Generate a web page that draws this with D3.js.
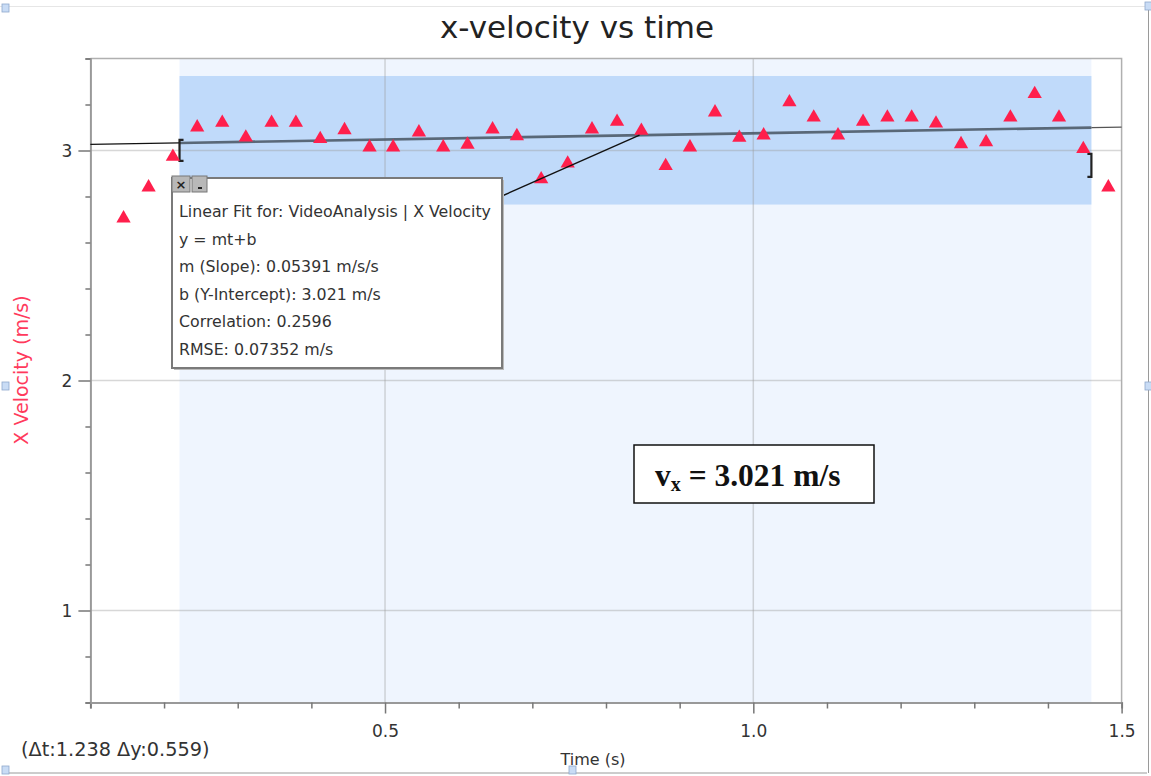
<!DOCTYPE html>
<html>
<head>
<meta charset="utf-8">
<script src="https://cdn.jsdelivr.net/npm/d3@7"></script>
<style>
  body { margin: 0; background: #fff; }
  svg { display: block; }
</style>
</head>
<body>
<div id="container"></div>
<script>
/* CONSTANTS AND GLOBALS */
const width = 1151,
  height = 776,
  margin = {top: 58.5, bottom: 73.5, left: 90.4, right: 29.4};

// data
const times = [0.145, 0.179, 0.212, 0.245, 0.279, 0.311, 0.346, 0.379, 0.412, 0.445,
  0.479, 0.511, 0.546, 0.579, 0.612, 0.646, 0.679, 0.712, 0.748, 0.781,
  0.815, 0.848, 0.881, 0.914, 0.948, 0.981, 1.014, 1.049, 1.082, 1.115,
  1.149, 1.182, 1.215, 1.248, 1.282, 1.316, 1.349, 1.382, 1.415, 1.448, 1.482];
const xVelocity = [2.705, 2.840, 2.973, 3.101, 3.121, 3.057, 3.121, 3.121, 3.050, 3.089,
  3.014, 3.014, 3.079, 3.014, 3.026, 3.092, 3.063, 2.875, 2.944, 3.092,
  3.125, 3.086, 2.933, 3.014, 3.166, 3.056, 3.066, 3.210, 3.144, 3.066,
  3.125, 3.144, 3.144, 3.118, 3.028, 3.036, 3.144, 3.246, 3.144, 3.007, 2.840];

const xTicks = [0.5, 1.0, 1.5];
const yTicks = [1, 2, 3];

// selected region and linear fit
const selT = [0.221, 1.459];
const selV = [2.765, 3.324];
const slope = 0.05391, intercept = 3.021;
const fitLines = [
  "Linear Fit for: VideoAnalysis | X Velocity",
  "y = mt+b",
  "m (Slope): 0.05391 m/s/s",
  "b (Y-Intercept): 3.021 m/s",
  "Correlation: 0.2596",
  "RMSE: 0.07352 m/s"
];
const bracketLeft = [3.046, 2.955];
const bracketRight = [2.985, 2.885];

const data = times.map((t, i) => ({t: t, v: xVelocity[i]}));

const svg = d3.select("#container")
  .append("svg")
  .attr("width", width)
  .attr("height", height);

// Scales
const xScale = d3.scaleLinear()
  .domain([0.1, 1.5])
  .range([margin.left, width - margin.right]);

const yScale = d3.scaleLinear()
  .domain([0.6, 3.4])
  .range([height - margin.bottom, margin.top]);

const x0 = margin.left, x1 = width - margin.right,
  y0 = margin.top, y1 = height - margin.bottom;

const font = "'DejaVu Sans', sans-serif";

// window frame bits
svg.append("line").attr("x1", 0).attr("x2", width - 4).attr("y1", 6.5).attr("y2", 6.5)
  .attr("stroke", "#e6e6e6");
svg.append("line").attr("x1", 4).attr("x2", width - 4).attr("y1", 773).attr("y2", 773)
  .attr("stroke", "#9a9a9a");
svg.append("line").attr("x1", 1148.5).attr("x2", 1148.5).attr("y1", 4).attr("y2", 773)
  .attr("stroke", "#9a9a9a");
[[2, 4], [2, 382], [2, 766], [569, 766], [1145, 382], [1145, 2]].forEach(p => {
  svg.append("rect").attr("x", p[0]).attr("y", p[1]).attr("width", 7).attr("height", 8)
    .attr("fill", "#c9dcf5").attr("stroke", "#8fa9cc").attr("stroke-width", 0.8);
});

// Title
svg.append("text")
  .attr("x", 577)
  .attr("y", 38)
  .attr("text-anchor", "middle")
  .style("font-family", font)
  .style("font-size", "31px")
  .style("fill", "#222")
  .text("x-velocity vs time");

// selection shading
svg.append("rect")
  .attr("x", xScale(selT[0]))
  .attr("y", y0)
  .attr("width", xScale(selT[1]) - xScale(selT[0]))
  .attr("height", y1 - y0)
  .attr("fill", "#eff5fe");

svg.append("rect")
  .attr("x", xScale(selT[0]))
  .attr("y", yScale(selV[1]))
  .attr("width", xScale(selT[1]) - xScale(selT[0]))
  .attr("height", yScale(selV[0]) - yScale(selV[1]))
  .attr("fill", "#c0dafa");

// grid
svg.append("g")
  .selectAll("line")
  .data(yTicks)
  .join("line")
  .attr("x1", x0).attr("x2", x1)
  .attr("y1", d => yScale(d)).attr("y2", d => yScale(d))
  .attr("stroke", "#9c9c9c").attr("stroke-opacity", 0.4).attr("stroke-width", 1.5);

svg.append("g")
  .selectAll("line")
  .data(xTicks.filter(d => d < 1.5))
  .join("line")
  .attr("x1", d => xScale(d)).attr("x2", d => xScale(d))
  .attr("y1", y0).attr("y2", y1)
  .attr("stroke", "#9c9c9c").attr("stroke-opacity", 0.4).attr("stroke-width", 1.5);

// plot border (top, right)
svg.append("path")
  .attr("d", `M${x0},${y0}H${x1}V${y1}`)
  .attr("fill", "none")
  .attr("stroke", "#b0b0b0")
  .attr("stroke-width", 1.5);

// Axes
const isMajor = (list, d) => list.some(m => Math.abs(m - d) < 1e-9);

const xAxis = d3.axisBottom(xScale)
  .tickValues(d3.range(1, 16).map(d => d / 10))
  .tickSize(6)
  .tickFormat("");
const gx = svg.append("g")
  .attr("transform", `translate(0, ${y1})`)
  .call(xAxis);
gx.selectAll(".tick line")
  .attr("y2", d => isMajor(xTicks, d) ? 11 : 6);
gx.selectAll(".tick").filter(d => isMajor(xTicks, d))
  .append("text")
  .attr("y", 34)
  .attr("fill", "#333")
  .style("font-family", font)
  .style("font-size", "17px")
  .style("text-anchor", "middle")
  .text(d => d.toFixed(1));

const yAxis = d3.axisLeft(yScale)
  .tickValues(d3.range(3, 18).map(d => d / 5))
  .tickSize(5)
  .tickFormat("");
const gy = svg.append("g")
  .attr("transform", `translate(${x0},0)`)
  .call(yAxis);
gy.selectAll(".tick line")
  .attr("x2", d => isMajor(yTicks, d) ? -12 : -5);
gy.selectAll(".tick").filter(d => isMajor(yTicks, d))
  .append("text")
  .attr("x", -18)
  .attr("dy", "0.36em")
  .attr("fill", "#333")
  .style("font-family", font)
  .style("font-size", "17px")
  .style("text-anchor", "end")
  .text(d => d);

[gx, gy].forEach(g => {
  g.select(".domain").attr("stroke", "#999").attr("stroke-width", 2);
  g.selectAll(".tick line").attr("stroke", "#777").attr("stroke-width", 1.5);
});

// fit line: outside selection thin, inside heavy
const fit = t => slope * t + intercept;
const lineGen = d3.line()
  .x(d => xScale(d))
  .y(d => yScale(fit(d)));

svg.append("path").datum([0.1, selT[0]])
  .attr("d", lineGen).attr("fill", "none").attr("stroke", "#111").attr("stroke-width", 1.3);
svg.append("path").datum([selT[1], 1.5])
  .attr("d", lineGen).attr("fill", "none").attr("stroke", "#555").attr("stroke-width", 1.3);
svg.append("path").datum(selT)
  .attr("d", lineGen).attr("fill", "none").attr("stroke", "#4e5b69").attr("stroke-width", 2.6)
  .attr("stroke-opacity", 0.9);

// brackets
const bracket = (t, vs, dir) => {
  const bx = xScale(t), ya = yScale(vs[0]), yb = yScale(vs[1]);
  svg.append("path")
    .attr("d", `M${bx + dir * 4},${ya}H${bx}V${yb}H${bx + dir * 4}`)
    .attr("fill", "none")
    .attr("stroke", "#222")
    .attr("stroke-width", 2.2);
};
bracket(selT[0], bracketLeft, 1);
bracket(selT[1], bracketRight, -1);

// data points
svg.append("g")
  .selectAll("path")
  .data(data)
  .join("path")
  .attr("transform", d => `translate(${xScale(d.t)},${yScale(d.v)})`)
  .attr("d", d3.symbol(d3.symbolTriangle, 88))
  .attr("fill", "#ff1f4c");

// fit info box
const box = {x: 172, y: 178, w: 330, h: 190};
svg.append("line")
  .attr("x1", box.x + box.w).attr("y1", box.y + 18)
  .attr("x2", xScale(0.8455)).attr("y2", yScale(fit(0.8455)))
  .attr("stroke", "#111").attr("stroke-width", 1.4);

svg.append("rect")
  .attr("x", box.x + 2).attr("y", box.y + 2)
  .attr("width", box.w).attr("height", box.h)
  .attr("fill", "#bbb");
svg.append("rect")
  .attr("x", box.x).attr("y", box.y)
  .attr("width", box.w).attr("height", box.h)
  .attr("fill", "#fff")
  .attr("stroke", "#7a7a7a")
  .attr("stroke-width", 2);

// close / minimise buttons
svg.append("rect").attr("x", box.x).attr("y", box.y - 2).attr("width", 18).attr("height", 16)
  .attr("fill", "#b8b8b8").attr("stroke", "#777");
svg.append("text").attr("x", box.x + 9).attr("y", box.y + 11)
  .attr("text-anchor", "middle")
  .style("font-family", font).style("font-size", "13px")
  .style("font-weight", "bold").style("fill", "#222").text("×");
svg.append("rect").attr("x", box.x + 20).attr("y", box.y - 2).attr("width", 15).attr("height", 16)
  .attr("fill", "#b8b8b8").attr("stroke", "#777");
svg.append("rect").attr("x", box.x + 26).attr("y", box.y + 9).attr("width", 4).attr("height", 2)
  .attr("fill", "#222");

svg.append("g")
  .selectAll("text")
  .data(fitLines)
  .join("text")
  .attr("x", box.x + 7)
  .attr("y", (d, i) => box.y + 39 + i * 27.6)
  .style("font-family", font)
  .style("font-size", "15.8px")
  .style("fill", "#333")
  .text(d => d);

// vx annotation
svg.append("rect")
  .attr("x", 634).attr("y", 445)
  .attr("width", 240).attr("height", 58)
  .attr("fill", "#fff")
  .attr("stroke", "#111")
  .attr("stroke-width", 1.5);
const vx = svg.append("text")
  .attr("x", 655).attr("y", 486)
  .style("font-family", "'Liberation Serif', 'Times New Roman', serif")
  .style("font-size", "31.5px")
  .style("font-weight", "bold")
  .style("fill", "#111");
vx.append("tspan").text("v");
vx.append("tspan").attr("dy", 5).style("font-size", "20px").text("x");
vx.append("tspan").attr("dy", -5).text(" = 3.021 m/s");

// Y Label
svg.append("text")
  .attr("x", -370)
  .attr("y", 28)
  .attr("transform", "rotate(-90)")
  .attr("text-anchor", "middle")
  .style("font-family", font)
  .style("font-size", "19px")
  .style("fill", "#ff3a5c")
  .text("X Velocity (m/s)");

// X Label
svg.append("text")
  .attr("x", 593)
  .attr("y", 765)
  .attr("text-anchor", "middle")
  .style("font-family", font)
  .style("font-size", "16px")
  .style("fill", "#333")
  .text("Time (s)");

svg.append("text")
  .attr("x", 21)
  .attr("y", 756)
  .style("font-family", font)
  .style("font-size", "19.3px")
  .style("fill", "#333")
  .text("(Δt:1.238 Δy:0.559)");
</script>
</body>
</html>
